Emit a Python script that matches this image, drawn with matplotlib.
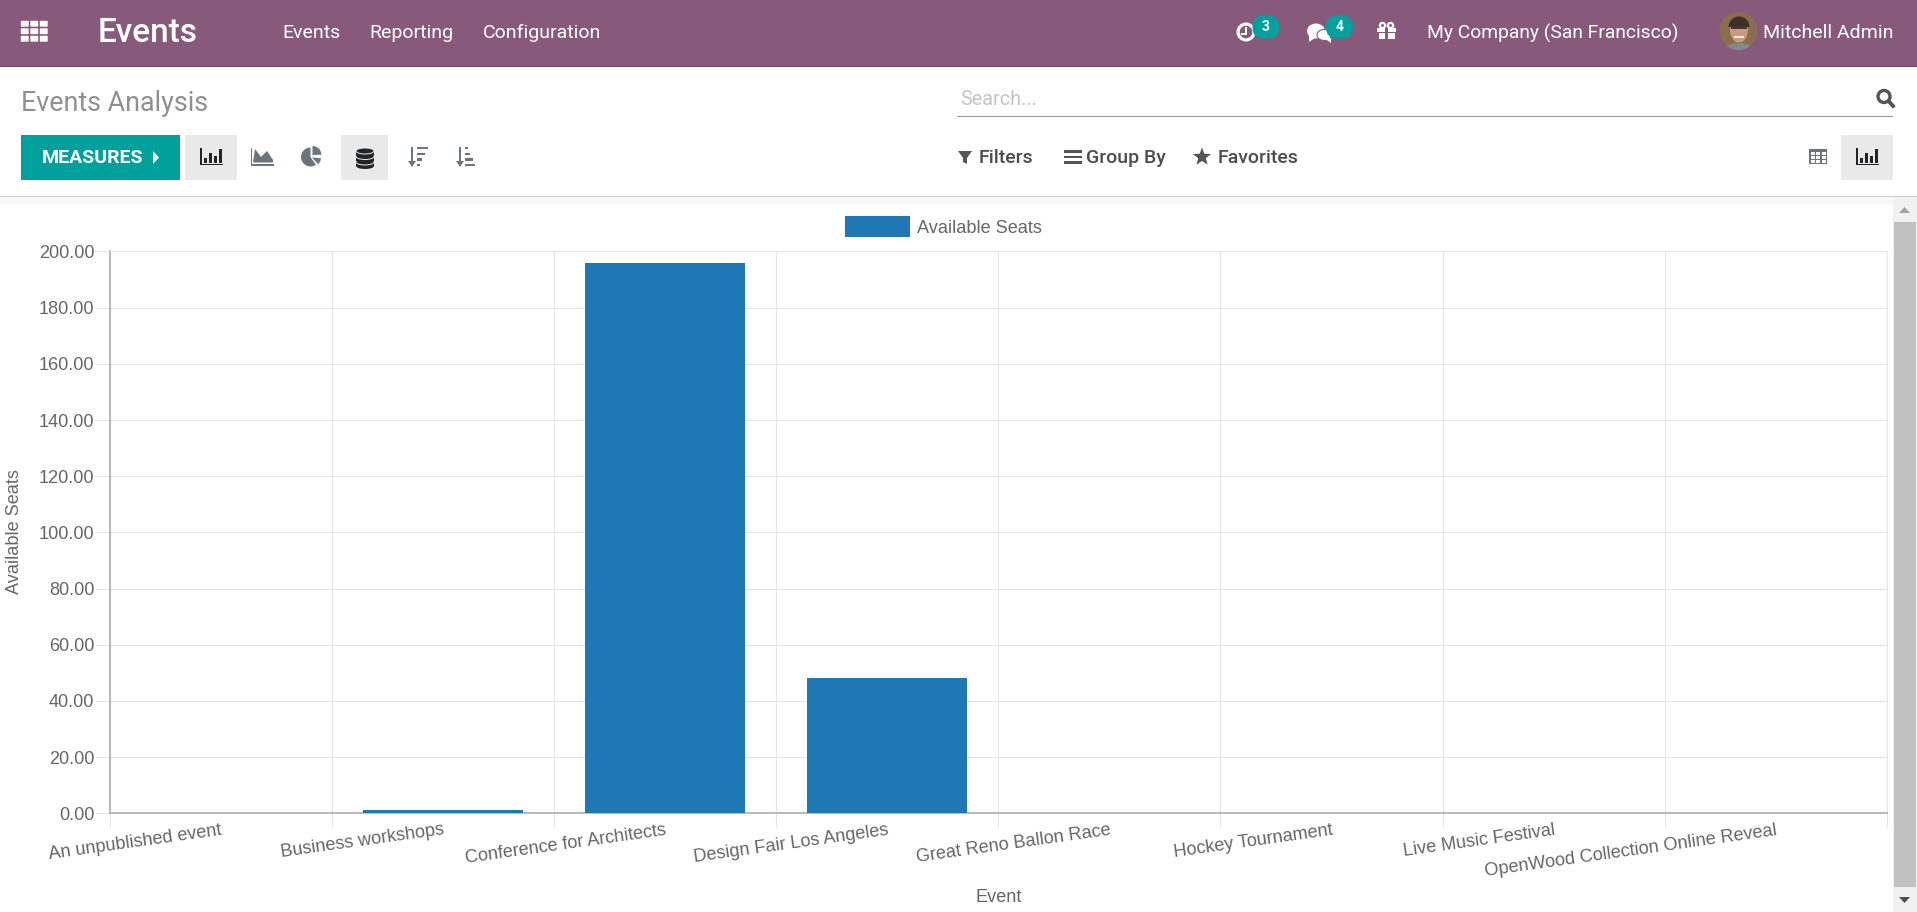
import matplotlib
matplotlib.use('Agg')
import matplotlib.pyplot as plt
import numpy as np
from matplotlib.patches import Circle, Ellipse, FancyBboxPatch, Polygon, Rectangle, Wedge

# chart data
events = ['An unpublished event', 'Business workshops', 'Conference for Architects',
          'Design Fair Los Angeles', 'Great Reno Ballon Race', 'Hockey Tournament',
          'Live Music Festival', 'OpenWood Collection Online Reveal']
available_seats = [0, 1, 196, 48, 0, 0, 0, 0]
y_ticks = [0, 20, 40, 60, 80, 100, 120, 140, 160, 180, 200]
menu_items = [('Events', 282), ('Reporting', 369), ('Configuration', 483)]

W, H = 1917, 912
PURPLE = '#875A7B'
TEAL = '#00A09D'
BAR = '#1F77B4'
ICON = '#6C757D'
DARK = '#212529'
CHART_FONT = 13.05

fig = plt.figure(figsize=((W + 0.01) / 100, (H + 0.01) / 100), dpi=100, facecolor='white')

# chart
ax = fig.add_axes([109.5 / W, 1 - 813.3 / H, (1887 - 109.5) / W, (813.3 - 251.5) / H])
x_pos = np.arange(len(events))
ax.bar(x_pos, available_seats, width=0.72, color=BAR, label='Available Seats', zorder=3)
ax.set_xlim(-0.5, 7.5)
ax.set_ylim(0, 200)
ax.set_yticks(y_ticks)
ax.set_yticklabels(['%.2f' % v for v in y_ticks], fontsize=CHART_FONT, color='#666666',
                   family='Liberation Sans')
ax.set_xticks(x_pos)
ax.set_xticklabels(events, fontsize=CHART_FONT, color='#666666', family='Liberation Sans',
                   rotation=8, ha='right', va='top', rotation_mode='anchor')
ax.set_xticks(np.arange(9) - 0.5, minor=True)
ax.tick_params(axis='x', which='major', length=0, pad=6)
ax.tick_params(axis='x', which='minor', length=10, width=0.8, color='#E5E5E5')
ax.tick_params(axis='y', length=11, width=0.8, color='#E5E5E5', pad=0)
ax.grid(True, which='minor', axis='x', color='#E5E5E5', lw=0.8, zorder=0)
ax.grid(True, which='major', axis='y', color='#E5E5E5', lw=0.8, zorder=0)
for side in ['top', 'right']:
    ax.spines[side].set_color('#E5E5E5')
    ax.spines[side].set_linewidth(0.8)
for side in ['left', 'bottom']:
    ax.spines[side].set_color('#B3B3B3')
    ax.spines[side].set_linewidth(1.3)
ax.legend(loc='lower center', bbox_to_anchor=(0.469, 1.0), frameon=False, ncol=1,
          prop={'family': 'Liberation Sans', 'size': CHART_FONT}, labelcolor='#666666',
          handlelength=3.6, handleheight=1.4, handletextpad=0.35, borderaxespad=0.38)

# app chrome, drawn in pixel coordinates
ui = fig.add_axes([0, 0, 1, 1], zorder=5)
ui.set_xlim(0, W)
ui.set_ylim(H, 0)
ui.axis('off')
ui.patch.set_alpha(0)


def rect(x0, y0, x1, y1, color, z=1):
    ui.add_patch(Rectangle((x0, y0), x1 - x0, y1 - y0, fc=color, ec='none', zorder=z))


def label(x, y, s, color='white', size=14, weight='normal', ha='left', family='Roboto'):
    ui.text(x, y, s, color=color, fontsize=size, fontweight=weight, ha=ha, va='center',
            family=family, zorder=6)


def bars_icon(x, y, color):
    rect(x, y, x + 1.5, y + 17, color, 3)
    rect(x, y + 16, x + 23, y + 17.5, color, 3)
    for dx, top in zip([4, 9, 14, 19], [10, 5, 8, 1]):
        rect(x + dx, y + top, x + dx + 3, y + 15, color, 3)


rect(0, 0, W, 66, PURPLE)
rect(0, 66, W, 67, '#6D4A63')
for i in range(3):
    for j in range(3):
        ui.add_patch(FancyBboxPatch((21.5 + i * 9.5, 21.5 + j * 7.5), 6.5, 4.5,
                                    boxstyle='round,pad=0.7', fc='white', ec='none', zorder=3))
label(98, 33, 'Events', size=24, weight='medium')
for name, x in menu_items:
    label(x, 33, name)

# systray
ui.add_patch(Wedge((1246, 32), 9.5, 0, 360, width=3.2, fc='white', ec='none', zorder=3))
rect(1245, 27, 1247, 35, 'white', 3)
rect(1241, 33.5, 1247, 35, 'white', 3)
for cx, txt in [(1266, '3'), (1339.5, '4')]:
    ui.add_patch(FancyBboxPatch((cx - 13.5, 15.5), 27, 23, boxstyle='round,pad=0,rounding_size=11',
                                fc=TEAL, ec='none', zorder=4))
    label(cx, 27, txt, size=10, weight='bold', ha='center')
ui.add_patch(Ellipse((1316, 31), 18, 15, fc='white', ec='none', zorder=3))
ui.add_patch(Polygon([(1309, 35), (1315, 38), (1309, 42)], fc='white', ec='none', zorder=3))
ui.add_patch(Ellipse((1324, 35), 14, 11, fc='white', ec=PURPLE, lw=0.8, zorder=3))
ui.add_patch(Polygon([(1324, 38), (1331, 38), (1331, 43)], fc='white', ec='none', zorder=3))
rect(1377, 28, 1396, 32.5, 'white', 3)
rect(1378.5, 33.5, 1394.5, 39, 'white', 3)
rect(1385.3, 28, 1387.7, 39, PURPLE, 4)
ui.add_patch(Circle((1382.5, 25.5), 2.6, fc='none', ec='white', lw=1.6, zorder=3))
ui.add_patch(Circle((1390.5, 25.5), 2.6, fc='none', ec='white', lw=1.6, zorder=3))
label(1427, 33, 'My Company (San Francisco)', size=13.9)

# avatar, everything clipped to the round frame
frame = Circle((1738.5, 31), 19, fc='#8A6D4E', ec='none', zorder=3)
ui.add_patch(frame)
avatar_parts = [Ellipse((1739, 56), 36, 26, fc='#7F8C8D', ec='none', zorder=4),
                Ellipse((1739, 30), 18, 25, fc='#C79C7F', ec='none', zorder=4),
                Wedge((1739, 27), 10.5, 180, 360, fc='#3E2F28', ec='none', zorder=5),
                Rectangle((1731, 27), 16, 2, fc='#3A3A3A', ec='none', zorder=5),
                Rectangle((1734, 36), 10, 2, fc='#F2E8DF', ec='none', zorder=5)]
for part in avatar_parts:
    ui.add_patch(part)
    part.set_clip_path(frame)
label(1763, 33, 'Mitchell Admin')

# control panel
label(21, 103, 'Events Analysis', color='#8F8F8F', size=19.4)
label(960, 99, 'Search...', color='#C4C4C4', size=14.3)
rect(957, 116, 1893, 117.3, '#999999')
ui.add_patch(Circle((1884, 96.5), 6, fc='none', ec='#555555', lw=2.4, zorder=3))
ui.plot([1888.5, 1893], [101, 106], color='#555555', lw=2.8, zorder=3)

rect(21, 135, 180, 180, TEAL)
label(42, 158, 'MEASURES', weight='bold')
ui.add_patch(Polygon([(153, 151), (159, 157.5), (153, 164)], fc='white', ec='none', zorder=3))

rect(185, 135, 237, 180, '#E9E9E9')
bars_icon(200, 148, DARK)

# area icon
ui.add_patch(Polygon([(253, 162.5), (255, 149), (261, 157), (267, 151), (273, 160), (273, 162.5)],
                     fc=ICON, ec='none', zorder=3))
rect(251, 148, 252.3, 166, ICON, 3)
rect(251, 164.5, 274, 166, ICON, 3)

# pie icon
ui.add_patch(Wedge((310.5, 157), 9.5, 55, 270, fc=ICON, ec='none', zorder=3))
ui.add_patch(Wedge((312.5, 155), 9, -90, -2, fc=ICON, ec='none', zorder=3))
ui.add_patch(Wedge((312, 157.5), 9, 5, 48, fc=ICON, ec='none', zorder=3))

# database icon
rect(341, 135, 388, 180, '#E9E9E9')
for yy in [162, 156.5, 151]:
    rect(356, yy, 374, yy + 4, DARK, 3)
    ui.add_patch(Ellipse((365, yy + 4), 18, 6, fc=DARK, ec='none', zorder=3))
    ui.add_patch(Ellipse((365, yy), 18, 6, fc=DARK, ec='#E9E9E9', lw=0.7, zorder=3))

# sort icons
for x0, widths in [(411, [11, 7.5, 5, 2.7]), (459, [3, 5, 7.5, 10])]:
    rect(x0, 147, x0 + 2, 163, ICON, 3)
    ui.add_patch(Polygon([(x0 - 3, 161), (x0 + 5, 161), (x0 + 1, 167)], fc=ICON, ec='none', zorder=3))
    for k, w in enumerate(widths):
        rect(x0 + 6, 147 + k * 5.6, x0 + 6 + w, 149.4 + k * 5.6, ICON, 3)

# filter, group by, favorites
ui.add_patch(Polygon([(958, 151), (972, 151), (967, 158), (967, 164), (963, 162), (963, 158)],
                     fc='#555555', ec='none', zorder=3))
label(979, 158, 'Filters', color='#4C4C4C', weight='medium')
for yy in [151.5, 157, 162.5]:
    rect(1064, yy - 1.2, 1082, yy + 1.2, '#555555', 3)
label(1086, 158, 'Group By', color='#4C4C4C', weight='medium')
star = [(1202 + (9.5 if k % 2 == 0 else 4) * np.sin(k * np.pi / 5),
         157 - (9.5 if k % 2 == 0 else 4) * np.cos(k * np.pi / 5)) for k in range(10)]
ui.add_patch(Polygon(star, fc='#555555', ec='none', zorder=3))
label(1218, 158, 'Favorites', color='#4C4C4C', weight='medium')

# table icon and graph view button
rect(1809, 149, 1827, 164, ICON, 3)
for i in range(3):
    for j in range(3):
        rect(1810.5 + i * 5.5, 152.5 + j * 3.8, 1814.5 + i * 5.5, 155.3 + j * 3.8, 'white', 4)
rect(1841, 135, 1893, 180, '#E9E9E9')
bars_icon(1856, 148, DARK)

# content border and scrollbar
rect(0, 196.5, W, 197.5, '#CCCCCC')
rect(0, 197.5, W, 204, '#F8F8F8')
rect(1893, 197.5, W, H, '#F1F1F1', 2)
rect(1894, 222, 1916, 887, '#C1C1C1', 3)
ui.add_patch(Polygon([(1899, 213), (1910, 213), (1904.5, 207)], fc='#A3A3A3', ec='none', zorder=3))
ui.add_patch(Polygon([(1899, 897), (1910, 897), (1904.5, 903)], fc='#505050', ec='none', zorder=3))

# axis titles
ui.text(14, 532, 'Available Seats', color='#666666', fontsize=CHART_FONT, rotation=90, ha='center',
        va='center', family='Liberation Sans', zorder=6)
ui.text(999, 897, 'Event', color='#666666', fontsize=CHART_FONT, ha='center', va='center',
        family='Liberation Sans', zorder=6)

fig.savefig('out.png', dpi=100)
